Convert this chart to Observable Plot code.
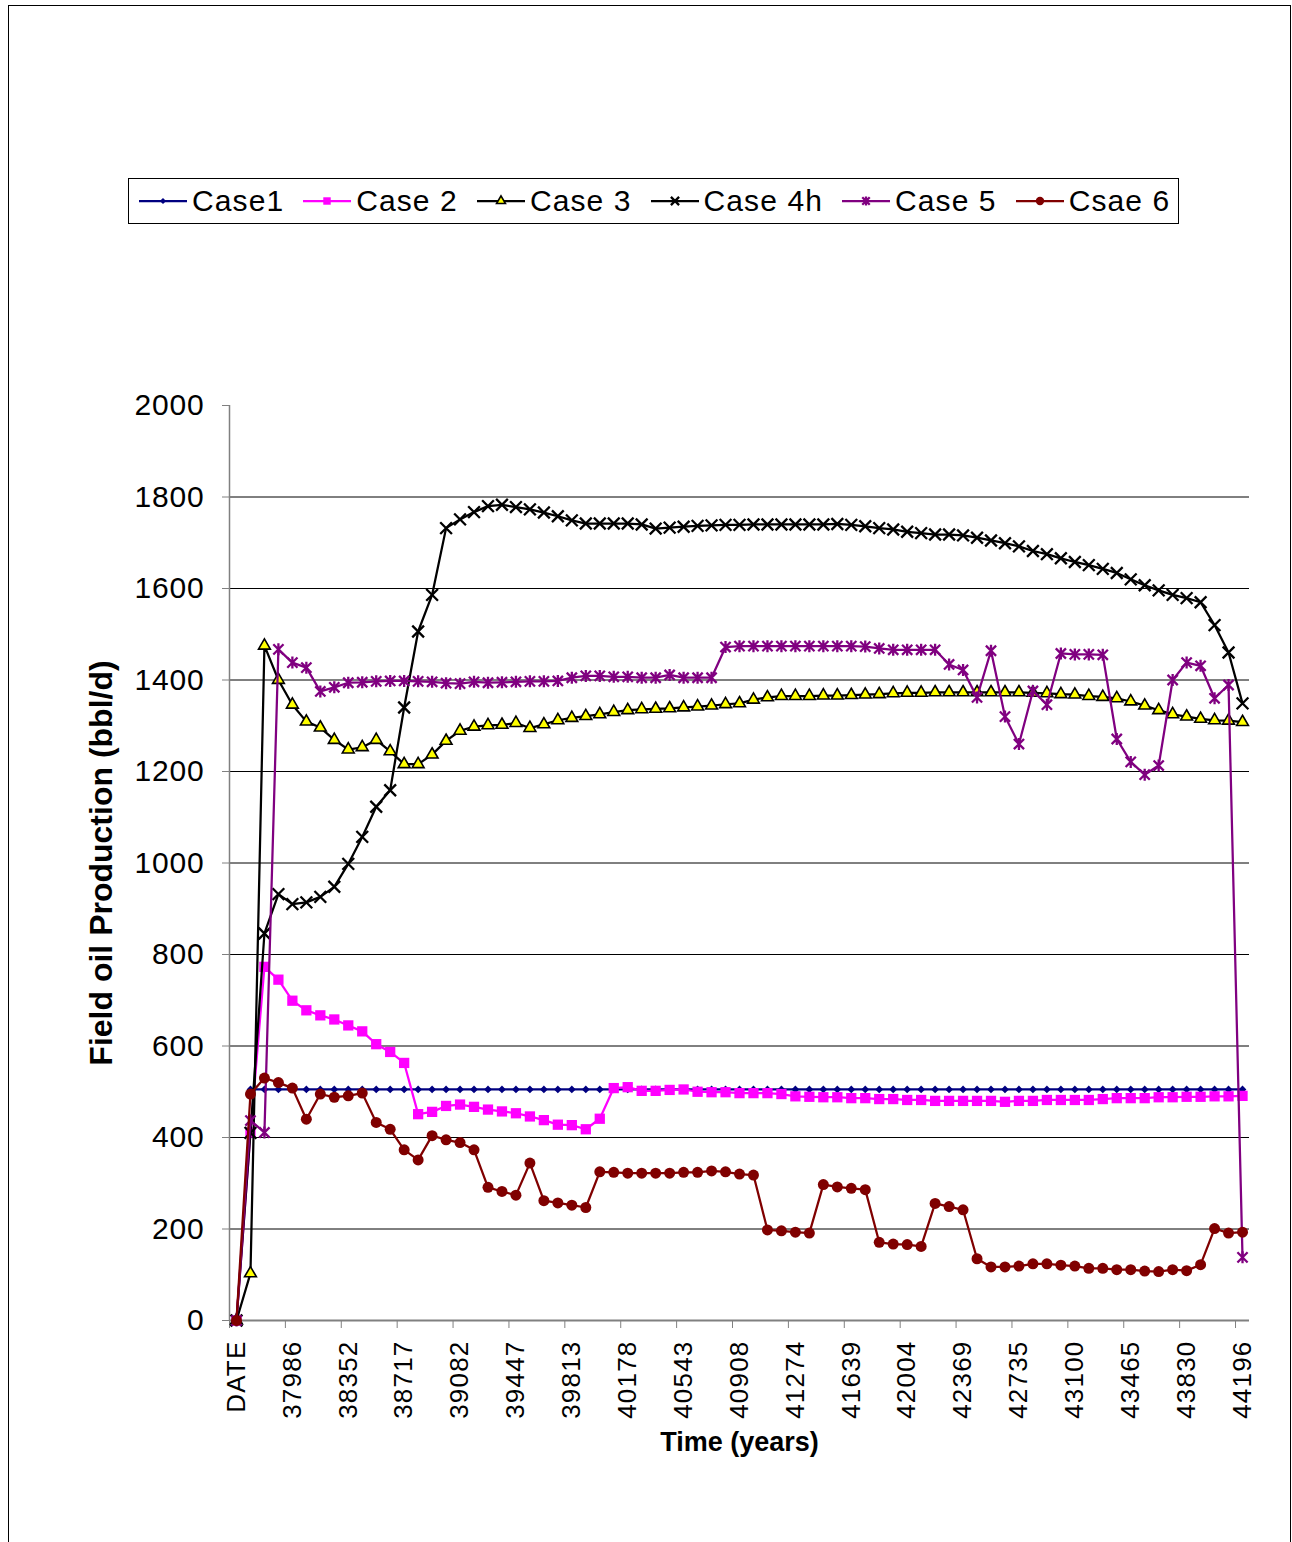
<!DOCTYPE html>
<html>
<head>
<meta charset="utf-8">
<script src="https://cdn.jsdelivr.net/npm/d3@7"></script>
<script src="https://cdn.jsdelivr.net/npm/@observablehq/plot@0.6"></script>
<style>
  html, body { margin: 0; padding: 0; background: #fff; }
  #page { position: relative; width: 1292px; height: 1542px; overflow: hidden; font-family: "Liberation Sans", Arial, sans-serif; background: #fff; }
  #border { position: absolute; left: 8px; top: 5px; width: 1283px; height: 1600px; border: 1px solid #000; box-sizing: border-box; }
  #chart { position: absolute; left: 0; top: 0; }
  #legend { position: absolute; left: 128px; top: 178px; width: 1051px; height: 46px; border: 1px solid #000; box-sizing: border-box;
            display: flex; align-items: center; padding-left: 10px; gap: 19px; font-size: 30px; letter-spacing: 1.1px; color: #000; background: #fff; }
  .item { display: flex; align-items: center; gap: 5px; white-space: nowrap; }
  .item svg { display: block; overflow: visible; }
  g[aria-label="y-axis tick label"] text { letter-spacing: 0.8px; }
  g[aria-label="x-axis tick label"] text { letter-spacing: 1.2px; }
</style>
</head>
<body>
<div id="page">
  <div id="border"></div>
  <div id="chart"></div>
  <div id="legend"></div>
</div>
<script>
// ---------------- data ----------------
const seriesNames = ["Case1", "Case 2", "Case 3", "Case 4h", "Case 5", "Csae 6"];
const seriesColors = ["#000080", "#FF00FF", "#000000", "#000000", "#800080", "#800000"];

const xTickIdx = [0, 4, 8, 12, 16, 20, 24, 28, 32, 36, 40, 44, 48, 52, 56, 60, 64, 68, 72];
const xTickLabels = ["DATE", "37986", "38352", "38717", "39082", "39447", "39813", "40178", "40543", "40908",
  "41274", "41639", "42004", "42369", "42735", "43100", "43465", "43830", "44196"];
const yTicks = [0, 200, 400, 600, 800, 1000, 1200, 1400, 1600, 1800, 2000];
const yDomain = [0, 2000];

const case1 = [null,
  505, 505, 505, 505, 505, 505, 505, 505, 505, 505, 505, 505, 505, 505, 505, 505, 505, 505,
  505, 505, 505, 505, 505, 505, 505, 505, 505, 505, 505, 505, 505, 505, 505, 505, 505, 505,
  505, 505, 505, 505, 505, 505, 505, 505, 505, 505, 505, 505, 505, 505, 505, 505, 505, 505,
  505, 505, 505, 505, 505, 505, 505, 505, 505, 505, 505, 505, 505, 505, 505, 505, 505, 505];
const case2 = [0, 411, 773, 745, 699, 678, 667, 658, 645, 632, 604, 587, 563, 451, 456, 469, 472, 467, 461,
  457, 453, 446, 438, 428, 427, 418, 441, 508, 510, 502, 502, 504, 505, 500, 499, 499, 497,
  497, 497, 495, 490, 489, 488, 488, 486, 486, 484, 484, 482, 482, 480, 480, 480, 480, 480,
  478, 480, 480, 482, 482, 482, 482, 484, 486, 486, 486, 488, 488, 489, 489, 490, 490, 491];
const case3 = [0, 103, 1475, 1400, 1346, 1309, 1296, 1269, 1248, 1253, 1269, 1244, 1216, 1216, 1237, 1267, 1289, 1298, 1301,
  1302, 1306, 1295, 1303, 1312, 1317, 1321, 1325, 1330, 1334, 1336, 1337, 1338, 1340, 1342, 1344, 1347, 1349,
  1357, 1362, 1365, 1365, 1365, 1366, 1366, 1367, 1368, 1369, 1371, 1372, 1372, 1373, 1373, 1373, 1373, 1373,
  1373, 1373, 1372, 1371, 1369, 1368, 1365, 1363, 1360, 1353, 1344, 1334, 1325, 1320, 1315, 1312, 1311, 1308];
const case4h = [0, 410, 846, 932, 910, 914, 926, 948, 998, 1057, 1123, 1159, 1340, 1506, 1586, 1732, 1751, 1767, 1780,
  1783, 1778, 1773, 1766, 1758, 1749, 1742, 1742, 1742, 1742, 1740, 1731, 1733, 1735, 1737, 1738, 1739, 1739,
  1740, 1740, 1740, 1740, 1740, 1740, 1741, 1739, 1736, 1732, 1729, 1724, 1721, 1718, 1718, 1716, 1711, 1705,
  1699, 1692, 1682, 1675, 1666, 1658, 1651, 1643, 1634, 1620, 1607, 1596, 1586, 1579, 1570, 1520, 1460, 1349];
const case5 = [0, 437, 411, 1467, 1438, 1427, 1375, 1384, 1394, 1395, 1397, 1398, 1398, 1397, 1396, 1393, 1392, 1396, 1394,
  1395, 1396, 1397, 1397, 1398, 1405, 1409, 1409, 1407, 1407, 1405, 1405, 1411, 1405, 1405, 1405, 1472, 1474,
  1474, 1474, 1474, 1474, 1474, 1474, 1474, 1474, 1473, 1469, 1466, 1466, 1466, 1466, 1434, 1422, 1362, 1464,
  1320, 1260, 1376, 1346, 1458, 1456, 1456, 1455, 1271, 1221, 1193, 1213, 1400, 1438, 1431, 1360, 1389, 138];
const case6 = [0, 495, 530, 520, 508, 440, 495, 488, 491, 497, 433, 418, 373, 351, 404, 395, 389, 373, 291,
  282, 274, 344, 262, 257, 252, 247, 325, 324, 322, 322, 322, 322, 324, 324, 327, 325, 320,
  318, 198, 196, 193, 191, 297, 292, 289, 286, 171, 167, 166, 162, 256, 249, 242, 135, 117,
  117, 119, 124, 124, 121, 119, 114, 114, 111, 111, 108, 107, 111, 109, 122, 201, 191, 193];

const xTitle = "Time (years)";
const yTitle = "Field oil Production (bbl/d)";

// ---------------- symbols ----------------
const symbolStar = {
  draw(ctx, size) {
    const r = Math.sqrt(size / Math.PI);
    const a = r * 0.85;
    ctx.moveTo(-a, -a); ctx.lineTo(a, a);
    ctx.moveTo(-a, a); ctx.lineTo(a, -a);
    ctx.moveTo(0, -r); ctx.lineTo(0, r);
  }
};

const seriesValues = [case1, case2, case3, case4h, case5, case6];
const seriesStyle = [
  {symbol: d3.symbolDiamond2, r: 3.5, fill: "#000080", stroke: "none", sw: 0, lr: 2.8},
  {symbol: d3.symbolSquare, r: 5.8, fill: "#FF00FF", stroke: "none", sw: 0, lr: 4.2},
  {symbol: d3.symbolTriangle, r: 4.4, fill: "#FFFF00", stroke: "#000", sw: 1.6, lr: 3.3},
  {symbol: d3.symbolTimes, r: 5.4, fill: "none", stroke: "#000", sw: 2.3, lr: 3.8},
  {symbol: symbolStar, r: 6, fill: "none", stroke: "#800080", sw: 2.3, lr: 4.4},
  {symbol: d3.symbolCircle, r: 5.5, fill: "#800000", stroke: "none", sw: 0, lr: 4.2}
];

// ---------------- chart ----------------
const nCat = case2.length;
const idx = d3.range(nCat);
const xDomain = [-0.5, nCat - 0.5];

const marks = [
  Plot.ruleY(yTicks.filter(v => v > yDomain[0] && v < yDomain[1]), {stroke: "#000", strokeWidth: 1}),
  Plot.ruleX([xDomain[0]], {stroke: "#808080", strokeWidth: 1.5}),
  Plot.ruleY([yDomain[0]], {stroke: "#808080", strokeWidth: 2}),
  Plot.axisY(yTicks, {tickSize: 7, tickPadding: 18, stroke: "#808080", fill: "#000", fontSize: 30,
    tickFormat: d => String(d), label: null}),
  Plot.axisX(xTickIdx.map(i => i - 0.5), {tickSize: 8, stroke: "#808080", tickFormat: () => "", label: null}),
  Plot.axisX(xTickIdx, {tickSize: 0, tickPadding: 20, tickRotate: -90, fontSize: 26, fill: "#000",
    tickFormat: d => xTickLabels[xTickIdx.indexOf(d)], label: null})
];

seriesValues.forEach((vals, k) => {
  const st = seriesStyle[k];
  const data = idx.map(i => ({i, v: vals[i]}));
  marks.push(Plot.line(data, {x: "i", y: "v", stroke: seriesColors[k], strokeWidth: 2.25}));
  marks.push(Plot.dot(data.filter(d => d.v != null), {x: "i", y: "v", symbol: st.symbol, r: st.r,
    fill: st.fill, stroke: st.stroke, strokeWidth: st.sw}));
});

marks.push(Plot.text([yTitle], {text: d => d, frameAnchor: "left", dx: -128, rotate: -90, textAnchor: "middle",
  fontSize: 32, fontWeight: "bold", fill: "#000"}));
marks.push(Plot.text([xTitle], {text: d => d, frameAnchor: "bottom", dy: 130, textAnchor: "middle",
  fontSize: 27, fontWeight: "bold", fill: "#000"}));

const chart = Plot.plot({
  width: 1292,
  height: 1542,
  marginLeft: 229,
  marginRight: 43,
  marginTop: 405,
  marginBottom: 222,
  style: {fontFamily: "'Liberation Sans', Arial, sans-serif", color: "#000", background: "transparent", overflow: "visible"},
  x: {domain: xDomain, axis: null},
  y: {domain: yDomain, axis: null},
  marks
});
document.getElementById("chart").appendChild(chart);

// ---------------- legend ----------------
const legend = document.getElementById("legend");
seriesNames.forEach((name, k) => {
  const st = seriesStyle[k];
  const item = document.createElement("div");
  item.className = "item";
  const svg = d3.create("svg").attr("width", 48).attr("height", 20);
  svg.append("line").attr("x1", 0).attr("x2", 48).attr("y1", 10).attr("y2", 10)
    .attr("stroke", seriesColors[k]).attr("stroke-width", 2.25);
  svg.append("path").attr("transform", "translate(24,10)")
    .attr("d", d3.symbol(st.symbol, Math.PI * st.lr * st.lr)())
    .attr("fill", st.fill).attr("stroke", st.stroke).attr("stroke-width", st.sw);
  item.appendChild(svg.node());
  const span = document.createElement("span");
  span.textContent = name;
  item.appendChild(span);
  legend.appendChild(item);
});
</script>
</body>
</html>
